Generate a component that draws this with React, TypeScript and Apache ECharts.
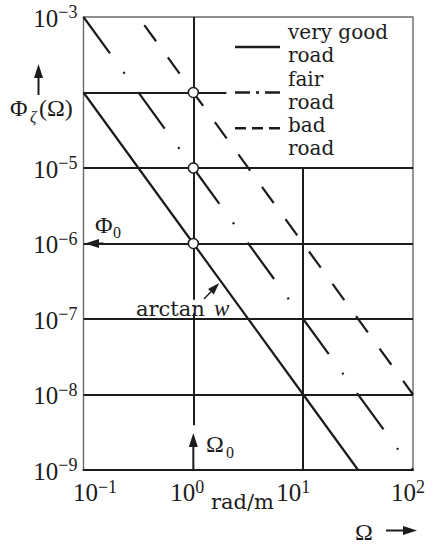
import React, { useEffect, useRef } from 'react';
import * as echarts from 'echarts';

const NUM_FONT = 'Liberation Serif, DejaVu Serif, serif';
const WORD_FONT = 'DejaVu Serif, Liberation Serif, serif';
const INK = '#1c1c1c';

// Spatial frequency Ω (rad/m) against road PSD Φζ(Ω), slope −2 in log–log
const veryGoodRoad: [number, number][] = [[0.1, 1e-4], [1, 1e-6], [10, 1e-8], [31.62, 1e-9]];
const fairRoad: [number, number][] = [[0.1, 1e-3], [1, 1e-5], [10, 1e-7], [100, 1e-9]];
const badRoad: [number, number][] = [[0.3162, 1e-3], [1, 1e-4], [10, 1e-6], [100, 1e-8]];
// Φ0 values at the reference frequency Ω0 = 1 rad/m
const referencePoints: [number, number][] = [[1, 1e-4], [1, 1e-5], [1, 1e-6]];

const legendLabels = ['very good\nroad', 'fair\nroad', 'bad\nroad'];

// decade grid segments in data coordinates
type Seg = [[number, number], [number, number]];
const gridSegments: Seg[] = [
  [[0.1, 1e-4], [2.0, 1e-4]],
  [[0.1, 1e-5], [100, 1e-5]],
  [[0.1, 1e-6], [100, 1e-6]],
  [[0.1, 1e-7], [100, 1e-7]],
  [[0.1, 1e-8], [100, 1e-8]],
  [[1, 1e-3], [1, 1.8e-7]],
  [[1, 1.2e-7], [1, 3.9e-9]],
  [[10, 1e-5], [10, 1e-9]],
];

export default function App() {
  const ref = useRef<HTMLDivElement>(null);

  useEffect(() => {
    const el = ref.current!;
    const chart = echarts.init(el, null, { renderer: 'svg' });

    const exp = (v: number) => Math.round(Math.log10(v));
    const sup = (e: number) => (e < 0 ? '\u2212' + Math.abs(e) : String(e));

    const baseTok = { fontFamily: NUM_FONT, fontSize: 25, lineHeight: 27.5, verticalAlign: 'bottom', color: INK };
    const supTok = { fontFamily: NUM_FONT, fontSize: 18, lineHeight: 14, verticalAlign: 'top', color: INK };

    const xShift: Record<string, [number, number]> = { m1: [23, 0], '0': [0, 12], '1': [0, 20], '2': [0, 10] };
    const xRich: Record<string, any> = {};
    Object.keys(xShift).forEach((k) => {
      const [l, r] = xShift[k];
      xRich['b' + k] = { ...baseTok, padding: [0, 0, 0, l] };
      xRich['s' + k] = { ...supTok, padding: [0, r, 0, 0] };
    });

    const option: any = {
      animation: false,
      textStyle: { fontFamily: NUM_FONT },
      grid: {
        left: 83.5, right: 14, top: 17, bottom: 75,
        show: true, borderColor: '#6a6a6a', borderWidth: 1.4,
      },
      xAxis: {
        type: 'log', logBase: 10, min: 0.1, max: 100,
        axisLine: { show: true, lineStyle: { color: INK, width: 1.8 } },
        axisTick: { show: false },
        splitLine: { show: false },
        minorTick: { show: false },
        minorSplitLine: { show: false },
        axisLabel: {
          margin: 7.5, fontSize: 25, fontFamily: NUM_FONT, color: INK,
          showMinLabel: true, showMaxLabel: true,
          formatter: (v: number) => {
            const e = exp(v);
            const k = String(e).replace('-', 'm');
            return `{b${k}|10}{s${k}|${sup(e)}}`;
          },
          rich: xRich,
        },
      },
      yAxis: {
        type: 'log', logBase: 10, min: 1e-9, max: 1e-3,
        axisLine: { show: false },
        axisTick: { show: false },
        splitLine: { show: false },
        minorTick: { show: false },
        minorSplitLine: { show: false },
        axisLabel: {
          margin: 6, fontSize: 25, fontFamily: NUM_FONT, color: INK,
          showMinLabel: true, showMaxLabel: true,
          formatter: (v: number) => {
            const e = exp(v);
            if (e === -4) return '';
            return `{b|10}{s|${sup(e)}}`;
          },
          rich: { b: baseTok, s: supTok },
        },
      },
      series: [
        {
          type: 'line', name: 'grid', data: [], silent: true, z: 1,
          markLine: {
            silent: true, animation: false, symbol: ['none', 'none'],
            label: { show: false },
            lineStyle: { color: INK, width: 2, type: 'solid' },
            data: gridSegments.map(([a, b]) => [{ coord: a }, { coord: b }]),
          },
        },
        {
          type: 'line', name: 'very good road', data: veryGoodRoad, symbol: 'none', z: 3, silent: true,
          lineStyle: { color: INK, width: 2.2, type: 'solid' },
        },
        {
          type: 'line', name: 'fair road', data: fairRoad, symbol: 'none', z: 3, silent: true,
          lineStyle: { color: INK, width: 2.2, type: [45, 23, 2, 23], dashOffset: 0, cap: 'butt' },
        },
        {
          type: 'line', name: 'bad road', data: badRoad, symbol: 'none', z: 3, silent: true,
          lineStyle: { color: INK, width: 2.2, type: [20, 20], dashOffset: 30, cap: 'butt' },
        },
        {
          type: 'scatter', name: 'reference', data: referencePoints, symbol: 'circle', symbolSize: 10, z: 5, silent: true,
          itemStyle: { color: '#ffffff', borderColor: INK, borderWidth: 1.5, opacity: 1 },
        },
      ],
    };
    chart.setOption(option);

    const px = (x: number, y: number) => chart.convertToPixel({ gridIndex: 0 }, [x, y]) as number[];

    const seg = (x1: number, y1: number, x2: number, y2: number, w = 2, dash?: number[]) => ({
      type: 'line', silent: true, z: 10,
      shape: { x1, y1, x2, y2 },
      style: { stroke: INK, lineWidth: w, lineDash: dash, lineCap: 'butt' },
    });
    const arrow = (tail: number[], tip: number[], len = 14, half = 4.5, w = 2) => {
      const dx = tip[0] - tail[0];
      const dy = tip[1] - tail[1];
      const d = Math.hypot(dx, dy) || 1;
      const ux = dx / d, uy = dy / d;
      const bx = tip[0] - ux * len, by = tip[1] - uy * len;
      const els: any[] = [];
      if (d > len) els.push(seg(tail[0], tail[1], bx, by, w));
      els.push({
        type: 'polygon', silent: true, z: 10,
        shape: { points: [[tip[0], tip[1]], [bx - uy * half, by + ux * half], [bx + uy * half, by - ux * half]] },
        style: { fill: INK },
      });
      return els;
    };
    const txt = (s: string, x: number, baseline: number, size = 24, italic = false, font = NUM_FONT) => ({
      type: 'text', silent: true, z: 10,
      x, y: baseline - 0.34 * size,
      style: {
        text: s, fill: INK,
        fontFamily: font, fontSize: size, fontStyle: italic ? 'italic' : 'normal',
        align: 'left', verticalAlign: 'middle',
      },
    });
    // multi-line text whose first baseline sits at `baseline`
    const block = (s: string, x: number, baseline: number, size: number, lh: number) => ({
      type: 'text', silent: true, z: 10,
      x, y: baseline - 0.3 * size - lh / 2,
      style: {
        text: s, fill: INK,
        fontFamily: WORD_FONT, fontSize: size, lineHeight: lh,
        align: 'left', verticalAlign: 'top',
      },
    });

    const graphic: any[] = [];

    // Φ0 arrow pointing to the ordinate
    const phi0 = px(0.1, 1e-6);
    graphic.push(...arrow([phi0[0] + 20, phi0[1]], [phi0[0] + 1.5, phi0[1]]));
    graphic.push(txt('Φ', 95, 233), txt('0', 113, 238, 16));

    // Ω0 arrow from the abscissa
    const om0a = px(1, 1e-9);
    const om0b = px(1, 3.1e-9);
    graphic.push(...arrow(om0a, om0b));
    graphic.push(txt('Ω', 206, 452), txt('0', 226, 458, 16));

    // slope annotation
    graphic.push(...arrow(px(1.25, 1.84e-7), px(1.72, 3.0e-7), 12, 4, 1.4));
    graphic.push(txt('arctan', 136, 316, 21, false, WORD_FONT), txt('w', 214, 316, 23, true));

    // axis titles
    graphic.push(...arrow([38.5, 95], [38.5, 64]));
    graphic.push(txt('Φ', 10, 116), txt('ζ', 30, 122, 16, true), txt('(Ω)', 39, 116));
    graphic.push(...arrow([386, 530.5], [417, 530.5]));
    graphic.push(txt('Ω', 355, 540));
    graphic.push(txt('rad/m', 211, 509, 21, false, WORD_FONT));

    // legend
    graphic.push(seg(235, 47, 280, 47, 2.6));
    graphic.push(seg(235, 92.5, 280, 92.5, 2.6, [15, 6, 3, 6]));
    graphic.push(seg(235, 128.3, 280, 128.3, 2.6, [11, 6]));
    const firstBaselines = [38, 85, 131];
    legendLabels.forEach((s, i) => graphic.push(block(s, 288, firstBaselines[i], 20, 23.4)));

    chart.setOption({ graphic });

    return () => chart.dispose();
  }, []);

  return (
    <div
      ref={ref}
      style={{ position: 'absolute', left: 0, top: 0, width: 438, height: 545, background: '#ffffff' }}
    />
  );
}
